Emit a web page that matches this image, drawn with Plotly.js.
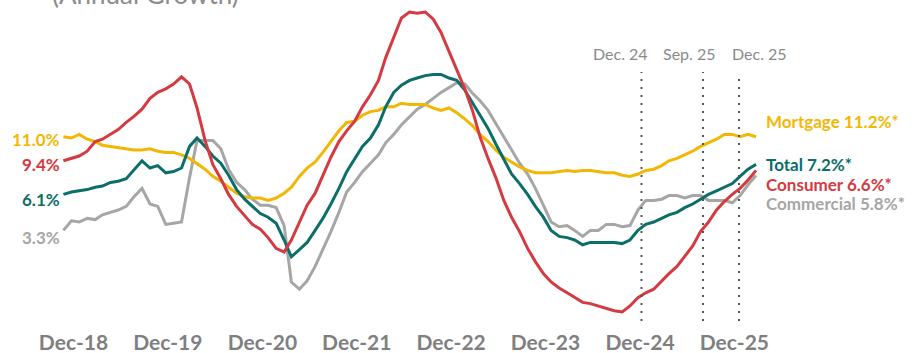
<!DOCTYPE html>
<html>
<head>
<meta charset="utf-8">
<script src="https://cdn.plot.ly/plotly-3.0.1.min.js"></script>
<style>html,body{margin:0;padding:0;background:#fff;}#chart{width:917px;height:353px;}</style>
</head>
<body>
<div id="chart"></div>
<script>
// Monthly observations, first one late Oct 2018
const firstObs = [2018, 9, 23];

const consumer = [9.1,9.3,9.5,9.9,10.7,10.9,11.3,11.7,12.3,12.8,
13.4,14.3,14.8,15.1,15.5,16.1,15.5,13.5,10.8,8.8,
7.6,6.3,5.3,4.5,3.8,3.4,2.7,1.8,1.5,2.5,
4.0,5.4,6.4,7.9,9.4,10.7,11.6,12.4,13.6,14.6,
15.8,17.7,19.4,21.0,21.5,21.4,21.5,20.9,19.8,18.2,
16.8,15.1,13.2,11.1,9.3,7.7,5.8,4.4,3.2,1.8,
0.7,-0.3,-1.0,-1.5,-1.9,-2.3,-2.7,-2.8,-3.0,-3.2,
-3.4,-3.5,-3.0,-2.3,-1.9,-1.6,-0.9,-0.3,0.3,1.1,
2.0,3.2,4.0,5.0,5.7,6.3,6.8,7.5,8.3];

const total = [6.3,6.5,6.6,6.7,6.9,7.0,7.3,7.4,7.6,8.3,
9.1,8.5,8.7,8.1,8.2,8.5,10.3,11.0,10.3,9.5,
8.9,7.9,6.7,5.9,5.3,4.7,4.4,3.9,2.5,1.1,
1.7,2.3,3.3,4.3,5.5,6.8,8.2,9.3,10.3,11.0,
12.1,13.6,14.8,15.4,15.8,16.0,16.2,16.3,16.3,16.0,
15.8,15.0,13.9,12.8,11.8,10.5,9.2,8.0,7.2,6.3,
5.3,4.4,3.3,2.8,2.7,2.5,2.1,2.3,2.3,2.3,
2.3,2.2,2.5,3.3,3.8,4.0,4.3,4.6,4.8,5.2,
5.5,5.9,6.3,6.6,6.9,7.2,7.8,8.4,8.8];

const commercial = [3.3,4.1,4.0,4.3,4.2,4.6,4.8,5.0,5.3,6.1,
6.8,5.5,5.3,3.8,3.9,4.0,7.7,10.8,10.8,10.8,
10.1,8.4,7.3,6.7,5.9,5.4,5.4,5.2,3.7,-1.0,
-1.6,-0.9,0.3,1.7,3.2,4.8,6.5,7.3,8.2,8.9,
9.6,10.6,11.3,12.1,12.8,13.4,13.8,14.3,14.8,15.2,
15.6,15.5,14.7,14.1,13.3,12.2,11.1,10.0,8.9,8.0,
6.8,5.4,4.0,3.6,3.7,3.3,2.8,3.3,3.3,3.8,
3.8,3.6,3.7,5.0,5.8,5.8,5.9,6.2,6.2,6.0,
6.2,6.2,5.8,5.8,5.8,5.6,6.2,7.1,7.9];

const mortgage = [11.1,11.0,11.3,10.9,10.7,10.4,10.3,10.2,10.1,10.0,
10.0,10.1,9.9,9.8,9.8,9.6,9.3,8.9,8.4,7.8,
7.4,6.9,6.4,6.1,6.0,6.0,5.8,6.0,6.4,6.9,
7.8,8.5,9.0,9.8,10.7,11.6,12.3,12.4,12.9,13.2,
13.3,13.6,13.6,13.9,13.8,13.8,13.8,13.5,13.3,13.5,
13.1,12.6,12.0,11.3,10.7,10.0,9.4,9.0,8.6,8.3,
8.1,8.1,8.1,8.2,8.3,8.2,8.3,8.3,8.2,8.1,
8.1,7.9,7.8,8.0,8.3,8.4,8.7,9.1,9.3,9.6,
9.9,10.3,10.6,10.9,11.3,11.3,11.1,11.3,11.1];

const tickDates = ['2018-12-01','2019-12-01','2020-12-01','2021-12-01','2022-12-01','2023-12-01','2024-12-01','2025-12-01'];
const tickLabels = ['Dec-18','Dec-19','Dec-20','Dec-21','Dec-22','Dec-23','Dec-24','Dec-25'];
const startLabels = ['11.0%', '9.4%', '6.1%', '3.3%'];
const endLabels = ['Mortgage 11.2%*', 'Total 7.2%*', 'Consumer 6.6%*', 'Commercial 5.8%*'];
const markerLabels = ['Dec. 24', 'Sep. 25', 'Dec. 25'];

const C = {mortgage:'#f2b705', consumer:'#d43a40', total:'#0c6e69', commercial:'#a6a6a6'};

const dates = consumer.map((_, i) =>
  new Date(Date.UTC(firstObs[0], firstObs[1] + i, firstObs[2])).toISOString().slice(0, 10));

function line(y, color) {
  return {x: dates, y: y, type: 'scatter', mode: 'lines', hoverinfo: 'skip',
          line: {color: color, width: 3}};
}
const traces = [
  line(commercial, C.commercial),
  line(mortgage, C.mortgage),
  line(total, C.total),
  line(consumer, C.consumer)
];

// pixel helpers for decorations (plot area spans 0..917 x 0..322)
const W = 917, PH = 322;
const px = v => v / W;
const py = v => 1 - v / PH;
const FONT = 'Lato, "Source Sans Pro", sans-serif';

const annotations = [];
function ann(text, x, y, xanchor, color, size, weight) {
  annotations.push({text: text, xref: 'paper', yref: 'paper', x: px(x), y: py(y),
    xanchor: xanchor, yanchor: 'middle', showarrow: false,
    font: {family: FONT, size: size, color: color, weight: weight}});
}
ann('(Annual Growth)', 50, -6, 'left', '#8c8c8c', 26, 'normal');

const startColors = [C.mortgage, C.consumer, C.total, C.commercial];
const startY = [140, 164, 200, 238];
startLabels.forEach((t, i) => ann(t, 62, startY[i], 'right', startColors[i], 17, 'bold'));

const endColors = [C.mortgage, C.total, C.consumer, C.commercial];
const endY = [122, 164, 184, 203];
endLabels.forEach((t, i) => ann(t, 764, endY[i], 'left', endColors[i], 17, 'bold'));

const markerX = [641.5, 703, 739];
const markerTop = [72, 72, 75];
const markerLabelX = [620.5, 689, 759];
const shapes = [];
markerLabels.forEach((t, i) => {
  ann(t, markerLabelX[i], 54, 'center', '#8a8a8a', 16, 'normal');
  shapes.push({type: 'line', xref: 'paper', yref: 'paper',
    x0: px(markerX[i]), x1: px(markerX[i]), y0: py(321), y1: py(markerTop[i]),
    line: {color: '#555555', width: 2, dash: '2px,6px'}});
});

const layout = {
  width: 917, height: 353,
  margin: {l: 0, r: 0, t: 0, b: 31, pad: 0},
  paper_bgcolor: '#ffffff', plot_bgcolor: '#ffffff',
  showlegend: false,
  xaxis: {type: 'date', range: ['2018-02-19 14:24', '2027-11-07 16:48'],
    tickmode: 'array', tickvals: tickDates, ticktext: tickLabels,
    showgrid: false, zeroline: false, showline: false, ticks: '',
    ticklabelstandoff: 6,
    tickfont: {family: FONT, size: 21, color: '#7f7f7f', weight: 'bold'}},
  yaxis: {range: [-4.3333, 22.5], visible: false, showgrid: false, zeroline: false},
  shapes: shapes,
  annotations: annotations
};

Plotly.newPlot('chart', traces, layout, {staticPlot: true, displayModeBar: false});
</script>
</body>
</html>
